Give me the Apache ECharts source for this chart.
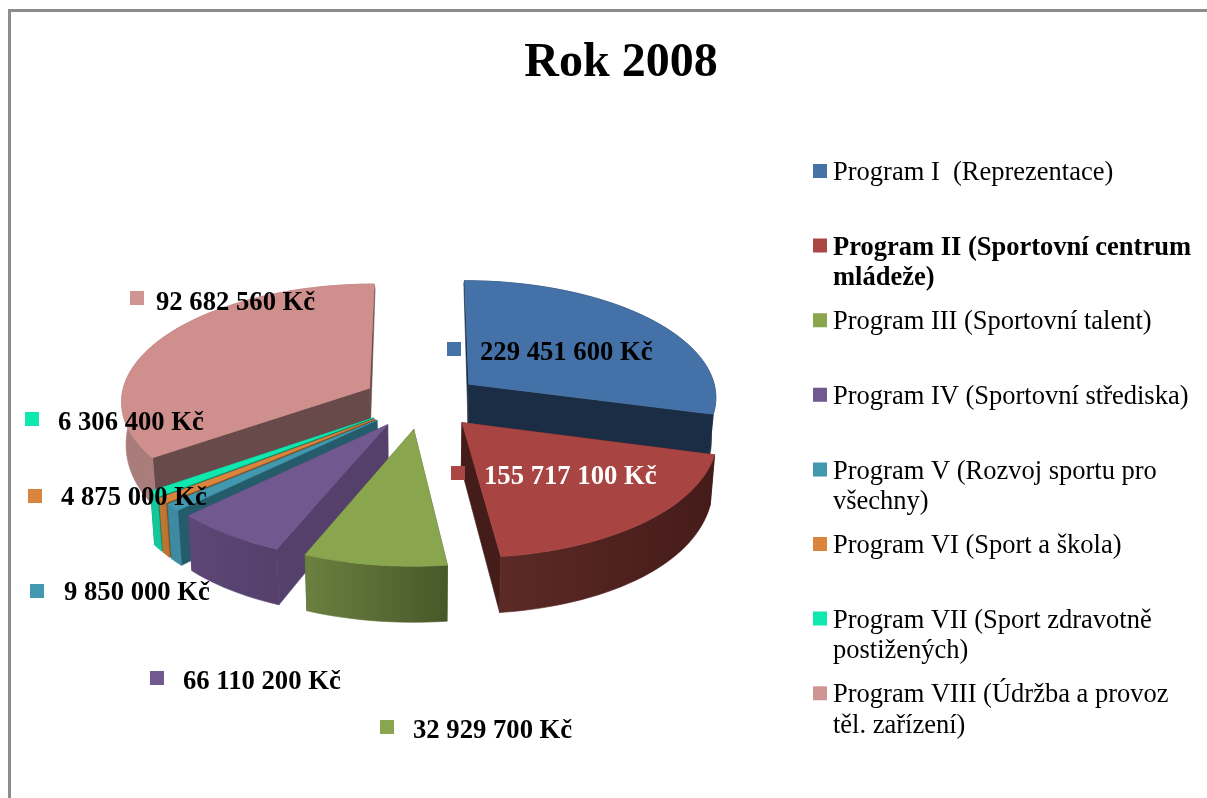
<!DOCTYPE html>
<html><head><meta charset="utf-8">
<style>html,body{margin:0;padding:0;background:#fff;overflow:hidden}#c{width:1207px;height:798px}</style>
<script src="https://cdn.jsdelivr.net/npm/echarts@6/dist/echarts.min.js"></script>
</head><body><div id="c"></div>
<script>
// ---- data ----
const title = 'Rok 2008';
const programs = ['Program I  (Reprezentace)','Program II (Sportovní centrum\nmládeže)','Program III (Sportovní talent)','Program IV (Sportovní střediska)','Program V (Rozvoj sportu pro\nvšechny)','Program VI (Sport a škola)','Program VII (Sport zdravotně\npostižených)','Program VIII (Údržba a provoz\ntěl. zařízení)'];
// amounts printed on the chart's labels
const amounts = [229451600,155717100,32929700,66110200,9850000,4875000,6306400,92682560];
// slice sizes as drawn in the picture (they do not follow the printed amounts), in degrees
const sliceShares = [105,68,29.5,23.5,3.5,2.5,3,125];

// ---- styles and layout ----
const topColors = ['#4472a8','#a84442','#89a54e','#71588f','#4198af','#db843d','#10e8b0','#cf8f8c'];
const legendColors = ['#4572a7','#aa4643','#89a54e','#71588f','#4198af','#db843d','#10e8b0','#d09592'];
const wallColors = [['#1b2d45','#1b2d45'],['#5c2a26','#451b19'],['#6b8040','#485829'],['#5c4776','#54406b'],['#3f8aa3','#3f8aa3'],['#c27a35','#b8722f'],['#14c79a','#14c79a'],['#a87c7a','#b68583']];
const faceColors = ['#1b2d45','#441c19','#485829','#54406b','#255c6b','#7d4f22','#0e7a5f','#694a4a'];
const paintOrder = [7,0,6,5,4,3,2,1];
const labelLayout = [[447,342,480,353,'#000'],[451,466,484,477,'#fff'],[380,720,413,731,'#000'],[150,671,183,682,'#000'],[30,584,64,593,'#000'],[28,489,61,498,'#000'],[25,412,58,423,'#000'],[130,291,156,303,'#000']];
const serif = '"Liberation Serif","Times New Roman",serif';
const cx = 422, cy = 401, fx = 249, fy = 117, k = 0.1, explode = 0.24;

const RAD = Math.PI / 180;
function depth(Y){ const t = Math.max(0, Y + 1.2); return 56 - 9.5 * t * t; }
function project(X, Y, bottom){
  const w = 1 + k * Y;
  let sx = fx * X / w, sy = -fy * Y / w;
  if (bottom){ sx *= 0.985; sy += depth(Y); }
  return [cx + sx, cy + sy];
}
function fmt(n){ return String(n).replace(/\B(?=(\d{3})+$)/g, ' ') + ' Kč'; }
const starts = []; sliceShares.reduce((a, v, i) => (starts[i] = a, a + v), 0);

function renderSlice(i){
  const a0 = starts[i], a1 = a0 + sliceShares[i], mid = (a0 + a1) / 2 * RAD;
  const ox = explode * Math.sin(mid), oy = explode * Math.cos(mid);
  const rim = bottom => { const p = [], n = Math.max(2, Math.ceil((a1 - a0) / 2));
    for (let j = 0; j <= n; j++){ const t = (a0 + (a1 - a0) * j / n) * RAD;
      p.push(project(ox + Math.sin(t), oy + Math.cos(t), bottom)); }
    return p; };
  const topRim = rim(false), botRim = rim(true);
  const apexT = project(ox, oy, false), apexB = project(ox, oy, true);
  const last = topRim.length - 1, z = 10 + paintOrder.indexOf(i) * 10;
  const poly = (points, fill, zz) => ({ type:'polygon', z2:zz, shape:{points},
    style:{ fill, stroke:fill, lineWidth:0.6 } });
  const wall = new echarts.graphic.LinearGradient(0,0,1,0,[{offset:0,color:wallColors[i][0]},{offset:1,color:wallColors[i][1]}]);
  const L = labelLayout[i];
  return { type:'group', children:[
    poly([apexT, topRim[0], botRim[0], apexB], faceColors[i], z),
    poly([apexT, topRim[last], botRim[last], apexB], faceColors[i], z + 1),
    poly(topRim.concat(botRim.slice().reverse()), wall, z + 2),
    poly([apexT].concat(topRim), topColors[i], z + 3),
    { type:'rect', z2:500, shape:{x:L[0], y:L[1], width:14, height:14}, style:{fill:legendColors[i]} },
    { type:'text', z2:501, x:L[2], y:L[3], style:{ text:fmt(amounts[i]), fill:L[4], font:'bold 26.67px '+serif, verticalAlign:'middle', align:'left' } }
  ]};
}

const series = programs.map((name, i) => ({
  type:'custom', name, coordinateSystem:'none', silent:true, animation:false,
  itemStyle:{ color:legendColors[i] }, data:[[sliceShares[i]]],
  renderItem:() => renderSlice(i)
}));

const chart = echarts.init(document.getElementById('c'), null, {renderer:'canvas'});
chart.setOption({
  backgroundColor:'#fff', animation:false,
  title:{ text:title, left:621, top:40, padding:0, textAlign:'center', textStyle:{ fontFamily:serif, fontWeight:'bold', fontSize:48, color:'#000' } },
  legend:{ orient:'vertical', left:813, top:158, padding:0, itemGap:13.6, itemWidth:15, itemHeight:61, selectedMode:false,
    icon:'path://M0 0L0 0Z M0 6H14V20H0Z M15 61L15 61Z',
    formatter:n => n.indexOf('\n') >= 0 ? n : n + '\n ',
    textStyle:{ fontFamily:serif, fontSize:26.5, lineHeight:30.5, color:'#000' },
    data:programs.map((name, i) => i === 1 ? { name, textStyle:{ fontWeight:'bold' } } : { name }) },
  graphic:[{ type:'polyline', z:100, shape:{ points:[[9.5,800],[9.5,10.5],[1210,10.5]] }, style:{ stroke:'#8c8c8c', lineWidth:3, fill:'none' } }],
  series
});
</script></body></html>
